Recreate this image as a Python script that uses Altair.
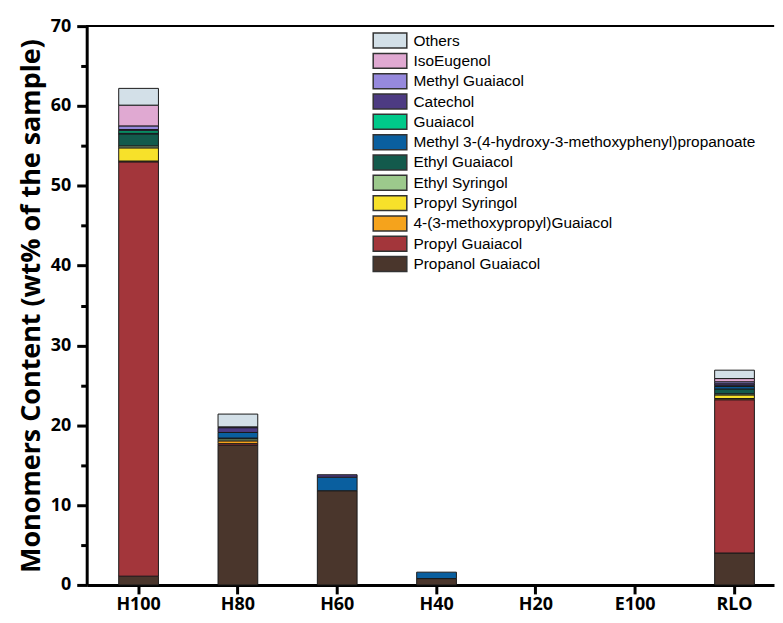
import altair as alt
import pandas as pd

samples = ["H100", "H80", "H60", "H40", "H20", "E100", "RLO"]

# stacked bottom -> top
compounds = [
    "Propanol Guaiacol",
    "Propyl Guaiacol",
    "4-(3-methoxypropyl)Guaiacol",
    "Propyl Syringol",
    "Ethyl Syringol",
    "Ethyl Guaiacol",
    "Methyl 3-(4-hydroxy-3-methoxyphenyl)propanoate",
    "Guaiacol",
    "Catechol",
    "Methyl Guaiacol",
    "IsoEugenol",
    "Others",
]

propanol_guaiacol = [1.1, 17.5, 11.8, 0.8, 0, 0, 4.0]
propyl_guaiacol = [51.9, 0.2, 0, 0, 0, 0, 19.2]
methoxypropyl_guaiacol = [0.1, 0.35, 0, 0, 0, 0, 0.15]
propyl_syringol = [1.65, 0, 0, 0, 0, 0, 0.45]
ethyl_syringol = [0.25, 0.25, 0, 0, 0, 0, 0.15]
ethyl_guaiacol = [1.5, 0.1, 0, 0, 0, 0, 0.6]
methyl_propanoate = [0.1, 0.7, 1.7, 0.8, 0, 0, 0.3]
guaiacol = [0.3, 0, 0, 0, 0, 0, 0.1]
catechol = [0.15, 0.6, 0.3, 0, 0, 0, 0.25]
methyl_guaiacol = [0.45, 0.1, 0, 0, 0, 0, 0.25]
isoeugenol = [2.6, 0, 0, 0, 0, 0, 0.4]
others = [2.1, 1.6, 0, 0, 0, 0, 1.05]

series = [
    propanol_guaiacol, propyl_guaiacol, methoxypropyl_guaiacol, propyl_syringol,
    ethyl_syringol, ethyl_guaiacol, methyl_propanoate, guaiacol, catechol,
    methyl_guaiacol, isoeugenol, others,
]

colors = [
    "#4a362c", "#a3363b", "#f5a31c", "#f7e12a", "#9cc98c", "#135a4c",
    "#0a5f9f", "#00c98a", "#4d3b82", "#9689dd", "#e0a9d2", "#d3e0e8",
]

rows = []
for i, (c, vals) in enumerate(zip(compounds, series)):
    for s, v in zip(samples, vals):
        if v > 0:
            rows.append({"Sample": s, "Compound": c, "Value": v, "idx": i})
df = pd.DataFrame(rows)

legend_order = compounds[::-1]
color_order = colors[::-1]

# wide rectangle symbol: height = sqrt(size) = 15, width ~34
rect_path = "M-2.25,-1L2.25,-1L2.25,1L-2.25,1Z"

W, H = 690, 561

bars = alt.Chart(df).mark_bar(stroke="#1a1a1a", strokeWidth=1).encode(
    x=alt.X(
        "Sample:N",
        sort=samples,
        scale=alt.Scale(domain=samples, paddingInner=0.6, paddingOuter=0.26, align=0.62),
        axis=alt.Axis(
            title=None, labelAngle=0, labelFont="Open Sans", labelFontWeight="bold",
            labelFontSize=18, labelColor="black", tickSize=9, tickWidth=3,
            tickColor="black", domainColor="black", domainWidth=3, labelPadding=2,
        ),
    ),
    y=alt.Y(
        "Value:Q",
        stack="zero",
        scale=alt.Scale(domain=[0, 70], nice=False),
        axis=alt.Axis(
            title="Monomers Content (wt% of the sample)",
            values=list(range(0, 71, 5)),
            labelExpr="datum.value % 10 === 0 ? datum.label : ''",
            tickSize={"condition": {"test": "datum.value % 10 === 0", "value": 10}, "value": 6},
            grid=False, labelFont="Open Sans", labelFontWeight="bold", labelFontSize=18,
            labelColor="black", tickWidth=3, tickColor="black", domainColor="black",
            domainWidth=3, labelPadding=6, titleFont="Open Sans", titleFontWeight="bold",
            titleFontSize=27, titleColor="black", titlePadding=5,
        ),
    ),
    color=alt.Color(
        "Compound:N",
        scale=alt.Scale(domain=legend_order, range=color_order),
        legend=alt.Legend(
            title=None, orient="none", legendX=296, legendY=6,
            symbolType=rect_path, symbolSize=225, symbolStrokeColor="#333333",
            symbolStrokeWidth=1.5, symbolOpacity=1, labelFont="Liberation Sans",
            labelFontSize=15.5, labelColor="black", labelLimit=600, labelOffset=15,
            rowPadding=-0.6,
        ),
    ),
    order=alt.Order("idx:Q", sort="ascending"),
)

top_line = alt.Chart(df).mark_rule(color="black", strokeWidth=2).encode(
    x=alt.value(0), x2=alt.value(W), y=alt.value(0)
)

chart = alt.layer(bars, top_line).properties(
    width=W, height=H,
    padding={"left": 9, "top": 8, "right": 0, "bottom": 0},
).configure_view(stroke=None)

chart.save("out.html", embed_options={"renderer": "svg", "actions": False})
